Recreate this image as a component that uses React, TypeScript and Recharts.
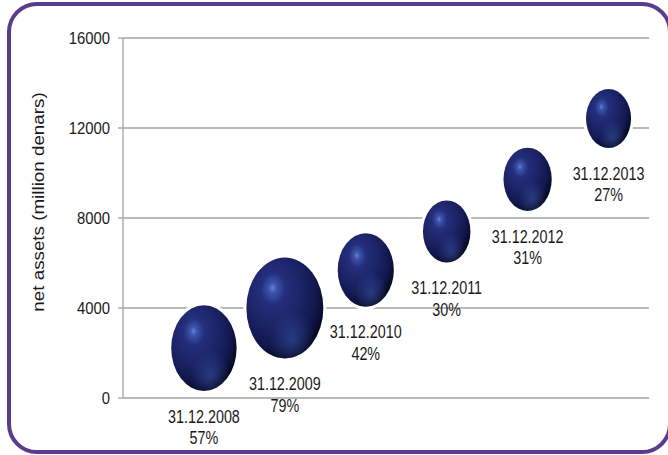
import React from 'react';
import { ScatterChart, Scatter, XAxis, YAxis, ZAxis, CartesianGrid } from 'recharts';

// Year-end net assets (million denars) and yearly growth in %
const dates = ['31.12.2008', '31.12.2009', '31.12.2010', '31.12.2011', '31.12.2012', '31.12.2013'];
const netAssets = [2220, 4000, 5690, 7400, 9720, 12420];
const growth = [57, 79, 42, 30, 31, 27];
const yTicks = [0, 4000, 8000, 12000, 16000];

const data = dates.map((date, i) => ({
  x: i + 1,
  assets: netAssets[i],
  share: growth[i],
  date,
}));

const FONT = "'Liberation Sans', Arial, sans-serif";
const GRID = '#a3a3a3';

const YTick = (props: any) => {
  const { x, y, payload } = props;
  return (
    <text
      transform={`translate(${x},${y}) scale(0.9,1)`}
      textAnchor="end"
      dy="0.35em"
      fontFamily={FONT}
      fontSize={16.5}
      fill="#1a1a1a"
    >
      {payload.value}
    </text>
  );
};

const YTitle = (props: any) => {
  const vb = props.viewBox || { x: 0, y: 38 };
  return (
    <text
      transform={`translate(${vb.x + 38},${vb.y + 164}) scale(0.85,1) rotate(-90)`}
      textAnchor="middle"
      dy="0.35em"
      fontFamily={FONT}
      fontSize={18.8}
      fill="#1a1a1a"
    >
      net assets (million denars)
    </text>
  );
};

// glossy ball with the date / growth caption underneath
const Ball = (props: any) => {
  const { cx, cy, payload, index } = props;
  const area = props.size ?? Math.PI * Math.pow((props.width || 0) / 2, 2);
  const rx = Math.sqrt(area / Math.PI);
  const ry = rx * 1.31;
  const id = `ball-${index}`;
  const line1 = cy + ry + 25.5;
  return (
    <g>
      <defs>
        <radialGradient id={`${id}-body`} cx="38%" cy="34%" r="72%" fx="34%" fy="30%">
          <stop offset="0%" stopColor="#6484d8" />
          <stop offset="7%" stopColor="#3c54ac" />
          <stop offset="22%" stopColor="#242e7c" />
          <stop offset="50%" stopColor="#1c2366" />
          <stop offset="75%" stopColor="#12184e" />
          <stop offset="92%" stopColor="#070a26" />
          <stop offset="100%" stopColor="#02030c" />
        </radialGradient>
        <radialGradient id={`${id}-glow`} cx="60%" cy="82%" r="30%">
          <stop offset="0%" stopColor="#3e5cb0" stopOpacity={0.5} />
          <stop offset="100%" stopColor="#3e5cb0" stopOpacity={0} />
        </radialGradient>
      </defs>
      <ellipse cx={cx} cy={cy} rx={rx + 3} ry={ry + 3} fill="#ffffff" />
      <ellipse cx={cx} cy={cy} rx={rx} ry={ry} fill={`url(#${id}-body)`} />
      <ellipse cx={cx} cy={cy} rx={rx} ry={ry} fill={`url(#${id}-glow)`} />
      <text
        transform={`translate(${cx},${line1}) scale(0.82,1)`}
        textAnchor="middle"
        dy="0.35em"
        fontFamily={FONT}
        fontSize={17.5}
        fill="#1a1a1a"
      >
        {payload.date}
      </text>
      <text
        transform={`translate(${cx},${line1 + 21.5}) scale(0.82,1)`}
        textAnchor="middle"
        dy="0.35em"
        fontFamily={FONT}
        fontSize={17.5}
        fill="#1a1a1a"
      >
        {payload.share}%
      </text>
    </g>
  );
};

export default function App() {
  return (
    <div style={{ position: 'fixed', left: 0, top: 0, width: 668, height: 455, overflow: 'hidden', background: '#fff' }}>
      <div
        style={{
          position: 'absolute',
          left: 7,
          top: 2,
          width: 665,
          height: 452,
          boxSizing: 'border-box',
          border: '4.5px solid #5b3c8c',
          borderRadius: 30,
        }}
      />
      <div style={{ position: 'absolute', left: 0, top: 0 }}>
        <ScatterChart width={668} height={455} margin={{ top: 38, right: 19, bottom: 57, left: 0 }}>
          <CartesianGrid vertical={false} stroke={GRID} strokeWidth={1.3} />
          <XAxis type="number" dataKey="x" domain={[0, 6.5]} hide height={0} />
          <YAxis
            type="number"
            dataKey="assets"
            domain={[0, 16000]}
            ticks={yTicks}
            width={123}
            axisLine={{ stroke: GRID, strokeWidth: 1.3 }}
            tickLine={{ stroke: GRID, strokeWidth: 1.3 }}
            tickSize={5}
            tickMargin={8}
            tick={<YTick />}
            label={<YTitle />}
          />
          <ZAxis type="number" dataKey="share" domain={[0, 79]} range={[0, 4657]} />
          <Scatter data={data} shape={<Ball />} isAnimationActive={false} />
        </ScatterChart>
      </div>
    </div>
  );
}
